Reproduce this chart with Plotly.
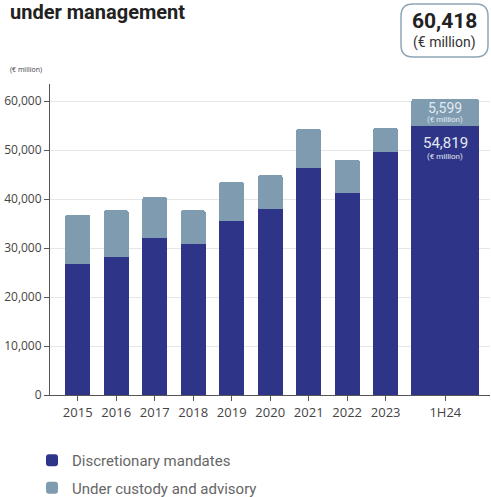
import plotly.graph_objects as go

categories = ["2015", "2016", "2017", "2018", "2019", "2020", "2021", "2022", "2023", "1H24"]
x_pos = [0, 1, 2, 3, 4, 5, 6, 7, 8, 9.55]
bar_widths = [0.65] * 9 + [1.77]
discretionary = [26700, 28200, 32000, 30800, 35500, 38000, 46300, 41200, 49600, 54819]
custody = [10100, 9500, 8400, 6900, 8000, 6900, 8000, 6800, 4900, 5599]
total_label = "60,418"
y_ticks = [0, 10000, 20000, 30000, 40000, 50000, 60000]

DARK = "#2e3588"
LIGHT = "#7e9bb0"
FONT = "Open Sans"
NARROW = "Roboto"

L, T, B, R = 50, 84, 102, 1
W, H = 491, 497
PW, PH = W - L - R, H - T - B


def px(xp):
    return (xp - L) / PW


def py(yp):
    return (H - B - yp) / PH


fig = go.Figure()
fig.add_trace(go.Bar(x=x_pos, y=discretionary, width=bar_widths, name="Discretionary mandates",
                     legendgroup="a", marker=dict(color=DARK, line=dict(width=0)), hoverinfo="skip"))
fig.add_trace(go.Bar(x=x_pos, y=custody, width=bar_widths, name="Under custody and advisory",
                     legendgroup="b", marker=dict(color=LIGHT, line=dict(width=0)), hoverinfo="skip"))

ann = []
# title
ann.append(dict(x=px(8), y=py(12), xref="paper", yref="paper", xanchor="left", yanchor="middle",
                text="<b>under management</b>", showarrow=False,
                font=dict(family="Roboto", size=20, color="#222222")))
ann.append(dict(x=px(8), y=py(69), xref="paper", yref="paper", xanchor="left", yanchor="middle",
                text="(€ million)", showarrow=False, font=dict(family=FONT, size=7, color="#444444")))
# total box
ann.append(dict(x=px(444), y=py(21), xref="paper", yref="paper", xanchor="center", yanchor="middle",
                text="<b>" + total_label + "</b>", showarrow=False,
                font=dict(family="Roboto", size=21, color="#222222")))
ann.append(dict(x=px(444), y=py(43), xref="paper", yref="paper", xanchor="center", yanchor="middle",
                text="(€ million)", showarrow=False, font=dict(family=NARROW, size=14, color="#333333")))
# 1H24 labels
LBL = "#e3e9f0"
mid_c = discretionary[-1] + custody[-1] / 2
ann.append(dict(x=x_pos[-1], y=mid_c, xref="x", yref="y", yshift=5,
                xanchor="center", yanchor="middle", showarrow=False,
                text=f"{custody[-1]:,}", font=dict(family=NARROW, size=14, color=LBL)))
ann.append(dict(x=x_pos[-1], y=mid_c, xref="x", yref="y", yshift=-7,
                xanchor="center", yanchor="middle", showarrow=False,
                text="(€ million)", font=dict(family=NARROW, size=8, color=LBL)))
ann.append(dict(x=x_pos[-1], y=discretionary[-1], xref="x", yref="y", yshift=-17,
                xanchor="center", yanchor="middle", showarrow=False,
                text=f"{discretionary[-1]:,}", font=dict(family=NARROW, size=15, color=LBL)))
ann.append(dict(x=x_pos[-1], y=discretionary[-1], xref="x", yref="y", yshift=-30,
                xanchor="center", yanchor="middle", showarrow=False,
                text="(€ million)", font=dict(family=NARROW, size=8, color=LBL)))

# rounded box path
x0, x1, y0, y1 = px(401), px(488), py(57), py(4)
rx, ry = 12 / PW, 12 / PH
path = (f"M {x0+rx},{y0} L {x1-rx},{y0} Q {x1},{y0} {x1},{y0+ry} L {x1},{y1-ry} "
        f"Q {x1},{y1} {x1-rx},{y1} L {x0+rx},{y1} Q {x0},{y1} {x0},{y1-ry} "
        f"L {x0},{y0+ry} Q {x0},{y0} {x0+rx},{y0} Z")

fig.update_layout(
    width=W, height=H,
    margin=dict(l=L, r=R, t=T, b=B, autoexpand=False),
    barmode="stack", barcornerradius=3,
    plot_bgcolor="white", paper_bgcolor="white",
    font=dict(family=FONT, color="#444444"),
    annotations=ann,
    shapes=[dict(type="path", path=path, xref="paper", yref="paper",
                 line=dict(color="#8ea6b6", width=1.5), fillcolor="rgba(0,0,0,0)")],
    legend=dict(orientation="v", x=px(32), y=py(444), xanchor="left", yanchor="top",
                traceorder="grouped", font=dict(family=NARROW, size=15, color="#666666"),
                itemwidth=30, tracegroupgap=5, bgcolor="rgba(0,0,0,0)"),
    showlegend=True,
)
fig.update_xaxes(range=[-0.72, 10.71], tickvals=x_pos, ticktext=categories,
                 showline=True, linecolor="#555555", linewidth=1, ticks="outside",
                 ticklen=5, tickcolor="#555555", showgrid=False, zeroline=False,
                 tickfont=dict(size=13, color="#444444"), fixedrange=True, automargin=False)
fig.update_yaxes(range=[0, 63470], tickvals=y_ticks, tickformat=",",
                 showline=True, linecolor="#555555", linewidth=1, ticks="outside",
                 ticklen=5, tickcolor="#555555", showgrid=True, gridcolor="#e6e6e6",
                 gridwidth=1, zeroline=False, tickfont=dict(size=12, color="#444444"),
                 fixedrange=True, automargin=False)

fig.write_html("out.html", config={"displayModeBar": False})
